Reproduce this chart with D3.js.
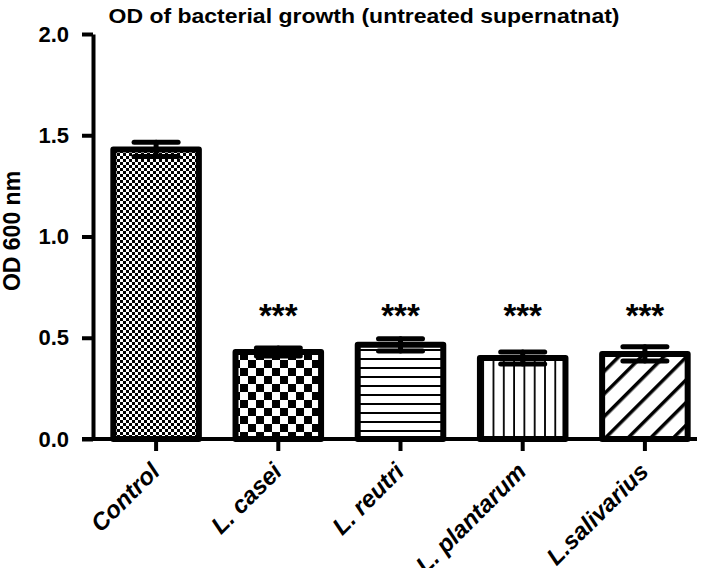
<!DOCTYPE html>
<html>
<head>
<meta charset="utf-8">
<script src="https://cdn.jsdelivr.net/npm/d3@7"></script>
<style>
  body { margin: 0; background: #fff; }
  svg { font-family: "Liberation Sans", Arial, sans-serif; }
</style>
</head>
<body>
<div id="chart"></div>
<script>
const groups = ['Control', 'L. casei', 'L. reutri', 'L. plantarum', 'L.salivarius'];
const means = [1.43, 0.43, 0.465, 0.40, 0.42];
const errors = [0.035, 0.02, 0.03, 0.03, 0.035];
const signif = ['', '***', '***', '***', '***'];
const yTicks = [0, 0.5, 1.0, 1.5, 2.0];
const patterns = ['fineCheck', 'bigCheck', 'hLines', 'vLines', 'diag'];

const width = 709, height = 568;
const svg = d3.select('#chart').append('svg').attr('width', width).attr('height', height);

// fill patterns
const defs = svg.append('defs');
let p = defs.append('pattern').attr('id', 'fineCheck').attr('patternUnits', 'userSpaceOnUse')
  .attr('width', 6).attr('height', 6);
p.append('rect').attr('width', 6).attr('height', 6).attr('fill', '#fff');
p.append('rect').attr('width', 3).attr('height', 3).attr('fill', '#000');
p.append('rect').attr('x', 3).attr('y', 3).attr('width', 3).attr('height', 3).attr('fill', '#000');

p = defs.append('pattern').attr('id', 'bigCheck').attr('patternUnits', 'userSpaceOnUse')
  .attr('width', 16).attr('height', 16);
p.append('rect').attr('width', 16).attr('height', 16).attr('fill', '#fff');
p.append('rect').attr('width', 8).attr('height', 8).attr('fill', '#000');
p.append('rect').attr('x', 8).attr('y', 8).attr('width', 8).attr('height', 8).attr('fill', '#000');

p = defs.append('pattern').attr('id', 'hLines').attr('patternUnits', 'userSpaceOnUse')
  .attr('width', 10).attr('height', 9);
p.append('rect').attr('width', 10).attr('height', 9).attr('fill', '#fff');
p.append('rect').attr('y', 7).attr('width', 10).attr('height', 2).attr('fill', '#000');

p = defs.append('pattern').attr('id', 'vLines').attr('patternUnits', 'userSpaceOnUse')
  .attr('width', 10.3).attr('height', 10);
p.append('rect').attr('width', 10.3).attr('height', 10).attr('fill', '#fff');
p.append('rect').attr('x', 8.5).attr('width', 1.8).attr('height', 10).attr('fill', '#000');

p = defs.append('pattern').attr('id', 'diag').attr('patternUnits', 'userSpaceOnUse')
  .attr('width', 16).attr('height', 16).attr('patternTransform', 'rotate(45)');
p.append('rect').attr('width', 16).attr('height', 16).attr('fill', '#fff');
p.append('rect').attr('x', 0).attr('width', 3.5).attr('height', 16).attr('fill', '#000');

const y = d3.scaleLinear().domain([0, 2]).range([439, 34]);
const x = d3.scaleBand().domain(groups).range([95, 706])
  .paddingInner(0.3).paddingOuter(0.15);

// title
svg.append('text')
  .attr('x', 364).attr('y', 23)
  .attr('text-anchor', 'middle')
  .attr('font-size', 21).attr('font-weight', 'bold')
  .attr('textLength', 511).attr('lengthAdjust', 'spacingAndGlyphs')
  .text('OD of bacterial growth (untreated supernatnat)');

// bars
const bars = svg.append('g');
bars.selectAll('rect').data(groups).join('rect')
  .attr('x', d => x(d))
  .attr('y', (d, i) => y(means[i]))
  .attr('width', x.bandwidth())
  .attr('height', (d, i) => y(0) - y(means[i]))
  .attr('fill', (d, i) => 'url(#' + patterns[i] + ')')
  .attr('stroke', '#000').attr('stroke-width', 6)
  .attr('stroke-linejoin', 'round');

// error bars
const err = svg.append('g').attr('stroke', '#000').attr('stroke-width', 5).attr('stroke-linecap', 'round');
groups.forEach((g, i) => {
  const cx = x(g) + x.bandwidth() / 2;
  const hi = y(means[i] + errors[i]), lo = y(means[i] - errors[i]);
  err.append('line').attr('x1', cx).attr('x2', cx).attr('y1', hi).attr('y2', lo);
  err.append('line').attr('x1', cx - 22).attr('x2', cx + 22).attr('y1', hi).attr('y2', hi);
  err.append('line').attr('x1', cx - 22).attr('x2', cx + 22).attr('y1', lo).attr('y2', lo);
});

// significance stars
svg.append('g').selectAll('text').data(groups).join('text')
  .attr('x', d => x(d) + x.bandwidth() / 2)
  .attr('y', 327)
  .attr('text-anchor', 'middle')
  .attr('font-size', 33).attr('font-weight', 'bold')
  .text((d, i) => signif[i]);

// y axis
const yAxis = d3.axisLeft(y).tickValues(yTicks).tickFormat(d3.format('.1f'))
  .tickSize(11).tickPadding(13).tickSizeOuter(0);
const gy = svg.append('g').attr('transform', 'translate(93,0)').call(yAxis);
gy.select('.domain').attr('stroke-width', 4);
gy.selectAll('.tick line').attr('stroke-width', 4);
gy.selectAll('.tick text').attr('font-size', 22).attr('font-weight', 'bold')
  .attr('font-family', '"Liberation Sans", Arial, sans-serif').attr('fill', '#000');

// x axis
const xAxis = d3.axisBottom(x).tickSize(12).tickSizeOuter(0).tickPadding(8);
const gx = svg.append('g').attr('transform', 'translate(0,439)').call(xAxis);
gx.select('.domain').remove();
gx.append('line').attr('x1', 82).attr('x2', 697).attr('stroke', '#000').attr('stroke-width', 4);
gx.selectAll('.tick line').attr('stroke-width', 4);
gx.selectAll('.tick text')
  .attr('font-size', 24).attr('font-weight', 'bold').attr('font-style', 'italic')
  .attr('font-family', '"Liberation Sans", Arial, sans-serif').attr('fill', '#000')
  .attr('text-anchor', 'end').attr('dy', 0)
  .attr('transform', 'translate(5,34) rotate(-45)')
  .attr('y', 0).attr('x', 0);

// y label
svg.append('text')
  .attr('transform', 'translate(20,231) rotate(-90)')
  .attr('text-anchor', 'middle')
  .attr('font-size', 23).attr('font-weight', 'bold')
  .text('OD 600 nm');
</script>
</body>
</html>
